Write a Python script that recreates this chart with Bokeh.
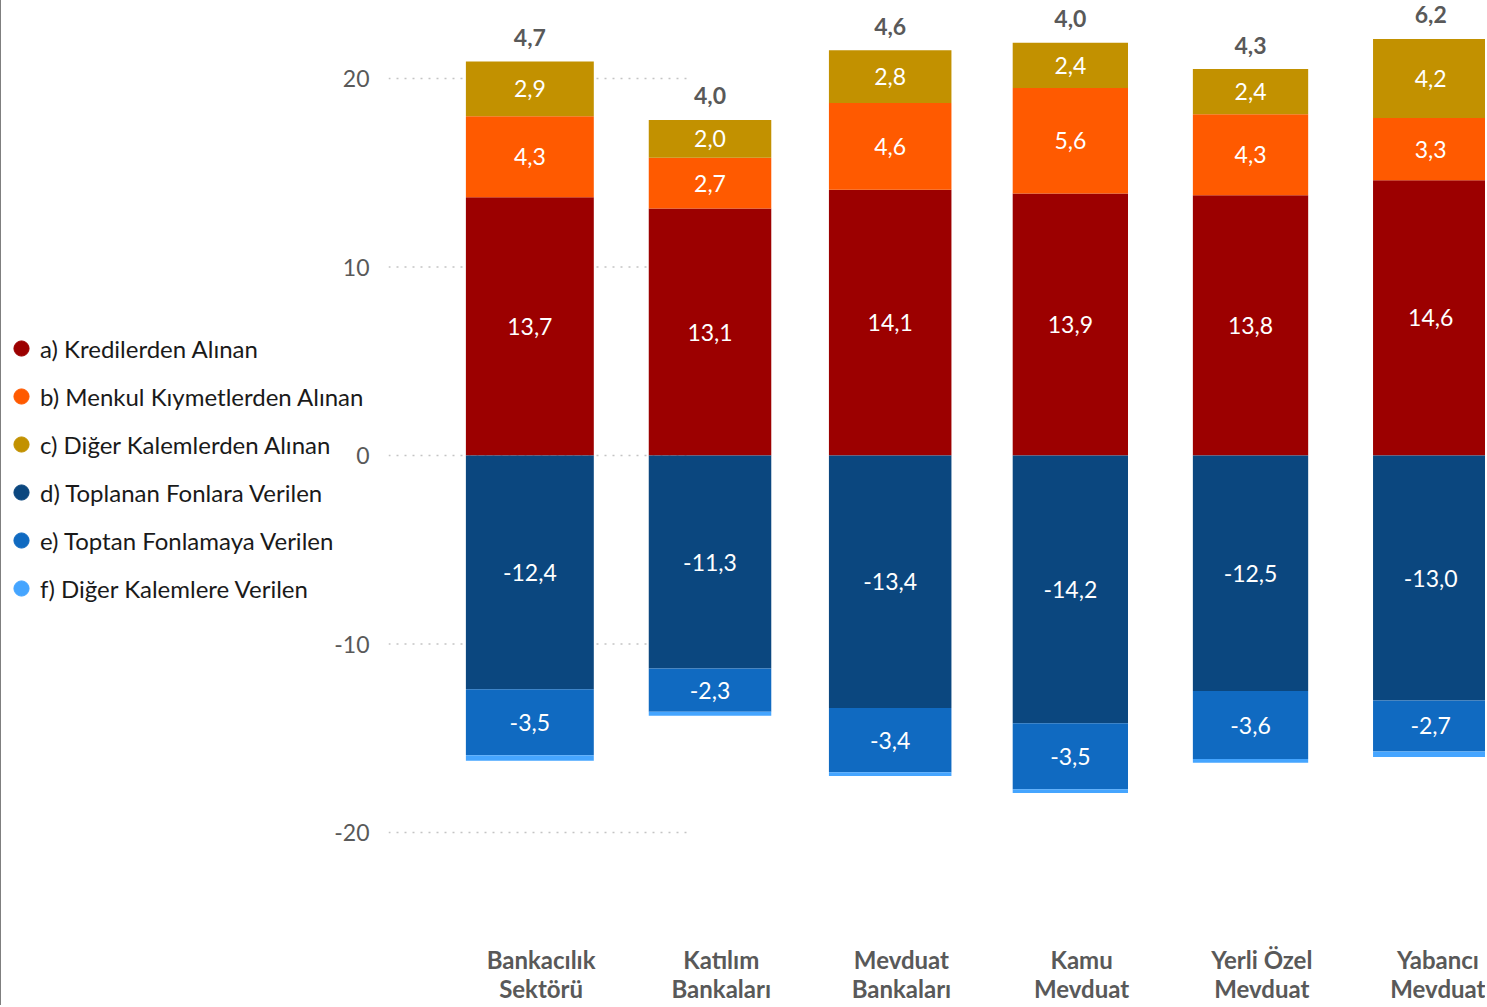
import math
from bokeh.plotting import figure
from bokeh.layouts import row
from bokeh.models import ColumnDataSource, FixedTicker, Legend, LegendItem, LabelSet
from bokeh.embed import file_html
from bokeh.resources import INLINE
from bokeh.core.properties import value

# ---------------- data ----------------
categories = ["Bankacılık\nSektörü", "Katılım\nBankaları", "Mevduat\nBankaları",
              "Kamu\nMevduat", "Yerli Özel\nMevduat", "Yabancı\nMevduat"]
series_names = ["a) Kredilerden Alınan", "b) Menkul Kıymetlerden Alınan",
                "c) Diğer Kalemlerden Alınan", "d) Toplanan Fonlara Verilen",
                "e) Toptan Fonlamaya Verilen", "f) Diğer Kalemlere Verilen"]
a_krediler = [13.7, 13.1, 14.1, 13.9, 13.8, 14.6]
b_menkul = [4.3, 2.7, 4.6, 5.6, 4.3, 3.3]
c_diger_alinan = [2.9, 2.0, 2.8, 2.4, 2.4, 4.2]
d_toplanan = [-12.4, -11.3, -13.4, -14.2, -12.5, -13.0]
e_toptan = [-3.5, -2.3, -3.4, -3.5, -3.6, -2.7]
f_diger_verilen = [-0.3, -0.2, -0.2, -0.2, -0.2, -0.3]
net = [4.7, 4.0, 4.6, 4.0, 4.3, 6.2]
y_ticks = [-20, -10, 0, 10, 20]

# ---------------- styles ----------------
colors = ["#9C0000", "#FF5A00", "#C29100", "#0B477F", "#106AC1", "#45A5FF"]
bar_widths = [0.71, 0.68, 0.68, 0.64, 0.64, 0.64]
FONT = "Lato"
GRAY = "#595959"
x_start, x_end = -0.7845, 5.3042
y_bot, y_top = -23.130, 24.138
grid_end = 0.894
label_shift = 0.0625
H = 1005
LEG_W = 370
OVERLAP = 39
MAIN_W = 1486 - (LEG_W + 1 - OVERLAP)


def fmt(v):
    return f"{v:.1f}".replace(".", ",")


xs = list(range(len(categories)))
src = ColumnDataSource(dict(x=xs, w=bar_widths, a=a_krediler, b=b_menkul, c=c_diger_alinan,
                            d=d_toplanan, e=e_toptan, f=f_diger_verilen))

# ---------------- main chart ----------------
p = figure(width=MAIN_W, height=H, x_range=(x_start, x_end), y_range=(y_bot, y_top),
           output_backend="svg", toolbar_location=None,
           min_border_left=55, min_border_right=0, min_border_top=0, min_border_bottom=114)
p.outline_line_color = None
p.background_fill_color = None
p.border_fill_color = None
p.xgrid.visible = False
p.ygrid.visible = False
p.margin = (0, 0, 0, -OVERLAP)

# dotted gridlines (only on the left portion, as in reference)
p.segment(x0=[x_start] * len(y_ticks), y0=y_ticks, x1=[grid_end] * len(y_ticks), y1=y_ticks,
          line_color="#c4c4c4", line_width=1.5, line_dash="2 6", level="underlay")

p.vbar_stack(["a", "b", "c"], x="x", width="w", source=src, color=colors[:3], line_color=None)
p.vbar_stack(["d", "e", "f"], x="x", width="w", source=src, color=colors[3:], line_color=None)

# value labels inside segments
lx, ly, lt = [], [], []
for i in xs:
    base = 0.0
    for v in (a_krediler[i], b_menkul[i], c_diger_alinan[i]):
        lx.append(i); ly.append(base + v / 2); lt.append(fmt(v)); base += v
    base = 0.0
    for v in (d_toplanan[i], e_toptan[i]):
        lx.append(i); ly.append(base + v / 2); lt.append(fmt(v)); base += v
lab_src = ColumnDataSource(dict(x=lx, y=ly, t=lt))
p.text(x="x", y="y", text="t", source=lab_src, text_color="white", text_font=value(FONT),
       text_font_size="23px", text_align="center", text_baseline="middle")

# net totals above bars
tops = [a_krediler[i] + b_menkul[i] + c_diger_alinan[i] for i in xs]
tot_src = ColumnDataSource(dict(x=xs, y=tops, t=[fmt(v) for v in net]))
p.add_layout(LabelSet(x="x", y="y", text="t", source=tot_src, y_offset=24,
                      text_color=GRAY, text_font=value(FONT), text_font_size="23px",
                      text_font_style="bold", text_align="center", text_baseline="middle"))

# axes
p.yaxis.ticker = FixedTicker(ticks=y_ticks)
p.yaxis.major_label_overrides = {t: fmt(t).replace(",0", "") for t in y_ticks}
p.yaxis.axis_line_color = None
p.yaxis.major_tick_line_color = None
p.yaxis.minor_tick_line_color = None
p.yaxis.major_label_standoff = 13
p.yaxis.major_label_text_font = FONT
p.yaxis.major_label_text_font_size = "23px"
p.yaxis.major_label_text_color = GRAY

xticks = [i + label_shift for i in xs]
p.xaxis.ticker = FixedTicker(ticks=xticks)
p.xaxis.major_label_overrides = {t: c for t, c in zip(xticks, categories)}
p.xaxis.axis_line_color = None
p.xaxis.major_tick_line_color = None
p.xaxis.minor_tick_line_color = None
p.xaxis.major_label_standoff = 47
p.xaxis.major_label_text_font = FONT
p.xaxis.major_label_text_font_size = "24px"
p.xaxis.major_label_text_font_style = "bold"
p.xaxis.major_label_text_color = GRAY
p.xaxis.major_label_text_line_height = 1.0

# ---------------- legend panel (left) ----------------
lg = figure(width=LEG_W, height=H, x_range=(0, 1), y_range=(0, 1),
            output_backend="svg", toolbar_location=None, min_border=0,
            x_axis_type=None, y_axis_type=None)
lg.outline_line_color = None
lg.background_fill_color = "white"
lg.border_fill_color = "white"
lg.styles = {"border-left": "1px solid #7f7f7f"}

items = []
for name, col in zip(series_names, colors):
    r = lg.scatter(x=[math.nan], y=[math.nan], marker="circle", size=16, color=col)
    items.append(LegendItem(label=name, renderers=[r]))
legend = Legend(items=items, location=(1, 284), glyph_width=38, glyph_height=38,
                label_standoff=0, spacing=10, padding=0, margin=0,
                label_text_font=FONT, label_text_font_size="24px", label_text_color="#1a1a1a",
                border_line_color=None, background_fill_alpha=0)
lg.add_layout(legend)

layout = row(lg, p)
open("out.html", "w").write(file_html(layout, INLINE))
